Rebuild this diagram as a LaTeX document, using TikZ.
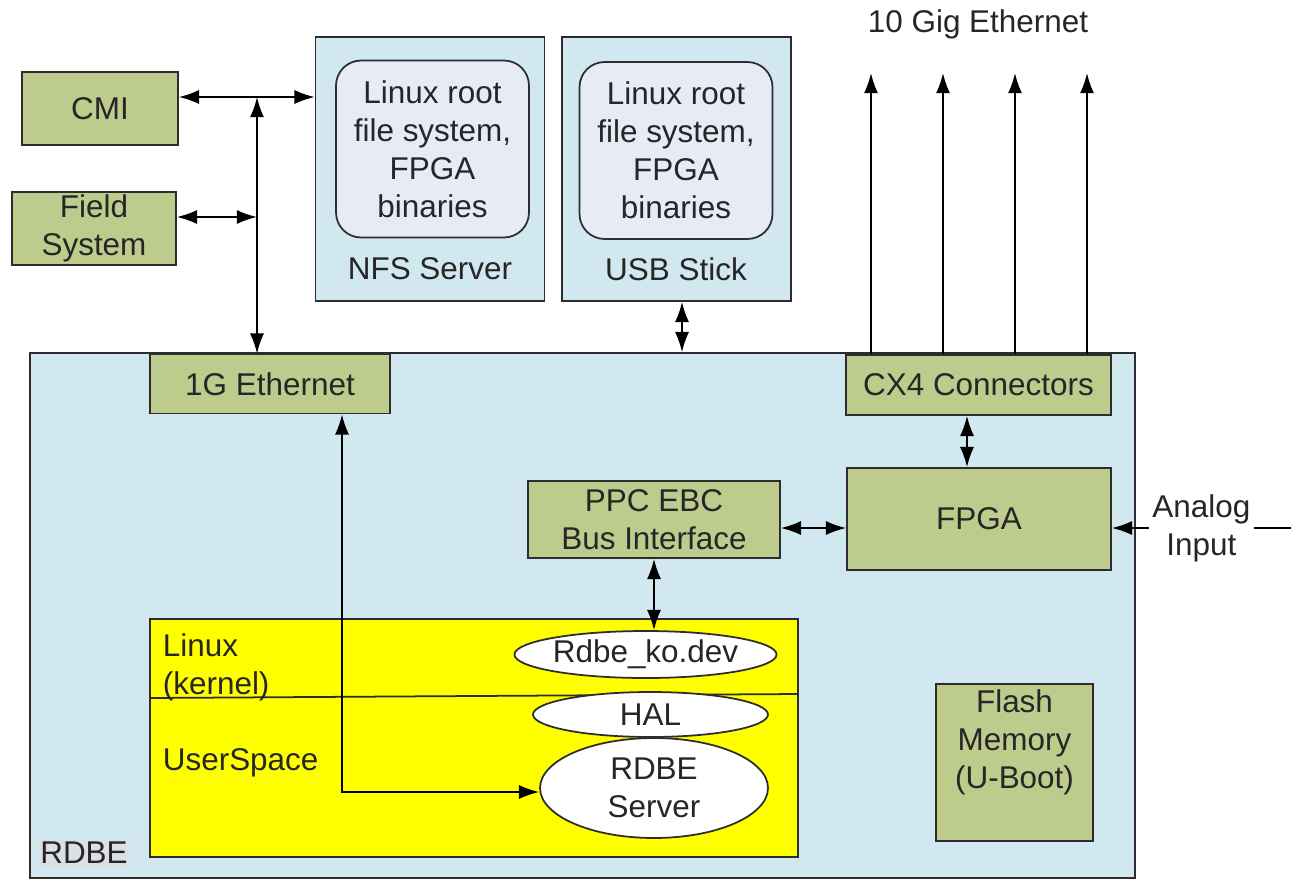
\documentclass[tikz,border=0pt]{standalone}
\usepackage{fontspec}
\setmainfont{Liberation Sans}
\usetikzlibrary{arrows.meta}
\usetikzlibrary{shapes.geometric}

\definecolor{boxgreen}{RGB}{189,203,140}
\definecolor{boardblue}{RGB}{210,232,240}
\definecolor{fsblue}{RGB}{230,235,246}
\definecolor{lblgray}{RGB}{220,224,228}
\definecolor{kernyellow}{RGB}{255,255,0}
\definecolor{edge}{RGB}{45,45,45}

\tikzset{
  gbox/.style={draw=edge, fill=boxgreen, align=center, inner sep=0pt},
  bbox/.style={draw=edge, fill=boardblue, inner sep=0pt},
  fsbox/.style={draw=edge, fill=fsblue, rounded corners=0.5cm, align=center, inner sep=0pt,
    minimum width=3.86cm, minimum height=3.54cm},
  swbox/.style={draw=edge, fill=white, ellipse, align=center, inner sep=0pt}
}

\begin{document}
\begin{tikzpicture}[x=0.02cm, y=-0.02cm, line width=1pt, >={Latex[length=11.5pt,width=8pt]},
  every node/.style={font=\fontsize{17.9}{21.6}\selectfont, text=black!85}]
  \useasboundingbox (0,0) rectangle (1291,880);

  % the board and outside world
  \node [bbox, minimum width=22.1cm, minimum height=10.5cm] (rdbe) at (582.5,615.5) {};
  \node [fill=lblgray, inner sep=1pt] (rdbelbl) at (84,853) {RDBE};

  \node [gbox, minimum width=3.12cm, minimum height=1.46cm] (cmi) at (100,108.5) {CMI};
  \node [gbox, minimum width=3.28cm, minimum height=1.46cm] (field) at (94,228.5) {Field\\System};

  \node [bbox, minimum width=4.58cm, minimum height=5.28cm] (nfs) at (430,169) {};
  \node [fsbox] (nfsfs) at (432.5,149) {Linux root\\file system,\\FPGA\\binaries};
  \node (nfslbl) at (430,269) {NFS Server};

  \node [bbox, minimum width=4.58cm, minimum height=5.28cm] (usb) at (676.5,169) {};
  \node [fsbox] (usbfs) at (676,150.5) {Linux root\\file system,\\FPGA\\binaries};
  \node (usblbl) at (676,269) {USB Stick};

  \node (tengig) at (978,24) {10 Gig Ethernet};

  % on the board
  \node [gbox, minimum width=4.8cm, minimum height=1.18cm] (geth) at (270,384) {1G Ethernet};
  \node [gbox, minimum width=5.3cm, minimum height=1.2cm] (cx4) at (978.5,385) {CX4 Connectors};
  \node [gbox, minimum width=5.28cm, minimum height=2.04cm] (fpga) at (979,519) {FPGA};
  \node [gbox, minimum width=5.04cm, minimum height=1.54cm] (ppc) at (654,519.5) {PPC EBC\\Bus Interface};
  \node [gbox, minimum width=3.14cm, minimum height=3.14cm] (flash) at (1014.5,762.5) {};
  \node [align=center, inner sep=0pt] (flashtxt) at (1014.5,742) {Flash\\Memory\\(U-Boot)};

  \node [draw=edge, fill=kernyellow, minimum width=12.96cm, minimum height=4.76cm, inner sep=0pt] (linux) at (474,738) {};
  \coordinate (kl) at (150,698);
  \coordinate (kr) at (798,694);
  \draw [edge] (kl) -- (kr);
  \node [anchor=west, align=left, inner sep=0pt] (kern) at (162,667) {Linux\\(kernel)};
  \node [anchor=west, inner sep=0pt] (user) at (162,763) {UserSpace};

  \node [swbox, minimum width=4.7cm, minimum height=0.94cm] (rdbeko) at (645.5,654.5) {Rdbe\_ko.dev};
  \node [swbox, minimum width=4.56cm, minimum height=2cm] (server) at (654,788) {RDBE\\Server};
  \node [swbox, minimum width=4.7cm, minimum height=0.9cm] (hal) at (650.5,714.5) {HAL};

  % connections
  \coordinate (bus) at (257,97);
  \coordinate (fsbus) at (257,217);
  \draw [<->] (cmi.east |- bus) -- (nfs.west |- bus);
  \draw [<->] (bus) -- (bus |- geth.north);
  \draw [<->] (field.east |- fsbus) -- (fsbus);

  \coordinate (usbport) at (682,0);
  \draw [<->] (usbport |- usb.south) -- (usbport |- rdbe.north);

  \foreach \x in {871,943,1015,1087} {
    \coordinate (up\x) at (\x,73);
    \draw [->] (up\x |- cx4.north) -- (up\x);
  }

  \coordinate (cxport) at (967,0);
  \draw [<->] (cxport |- cx4.south) -- (cxport |- fpga.north);
  \coordinate (ebc) at (0,528);
  \draw [<->] (ppc.east |- ebc) -- (fpga.west |- ebc);
  \draw [<->] (ppc.south) -- (ppc.south |- rdbeko.north);

  \coordinate (ain) at (1291,528);
  \draw [->] (ain) -- (fpga.east |- ain) node [pos=0.5, fill=white, align=center, inner sep=2pt] (analog) {Analog\\Input};

  \coordinate (ethport) at (342,792);
  \draw [<->] (ethport |- geth.south) -- (ethport) -- (server.west |- ethport);
\end{tikzpicture}
\end{document}
